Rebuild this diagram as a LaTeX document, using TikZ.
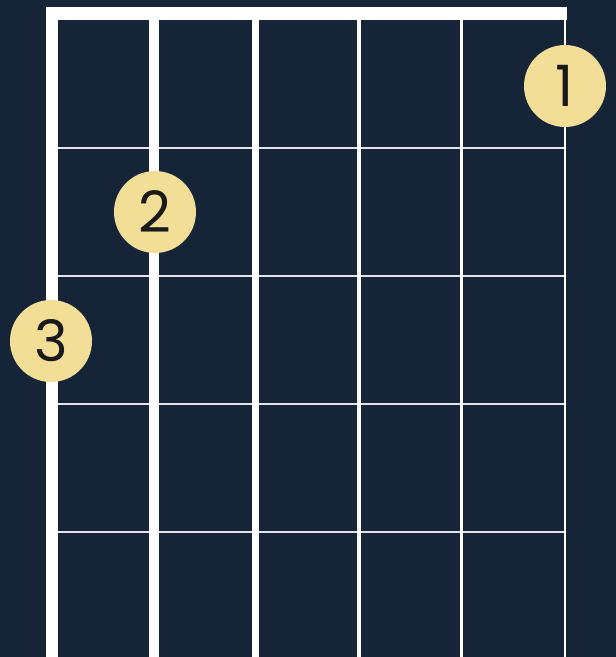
\documentclass[tikz,border=0pt]{standalone}
\usepackage{fontspec}
\setmainfont{Poppins}
\definecolor{bg}{HTML}{162438}
\definecolor{dot}{HTML}{F3DE98}
\begin{document}
\begin{tikzpicture}[x=1pt,y=-1pt,
  stringline/.style={draw=white,line cap=butt},
  fretline/.style={draw=white!88!bg,line width=2.4pt},
  finger/.style={circle,fill=dot,minimum size=82pt,inner sep=0pt,font=\fontsize{57}{57}\selectfont,text=black!90}]
\fill[bg] (0,0) rectangle (616,657);
\useasboundingbox (0,0) rectangle (616,657);
% frets
\foreach \y/\n in {148/f1,276/f2,404/f3,532/f4}{
  \coordinate (\n l) at (52,\y);
  \coordinate (\n r) at (565,\y);
  \draw[fretline] (\n l) -- (\n r);
}
% strings
\foreach \x/\w/\n in {52/12/s1,154/10/s2,255/7/s3,359/4.5/s4,461.5/3/s5,565/2.5/s6}{
  \coordinate (\n t) at (\x,13);
  \coordinate (\n b) at (\x,657);
  \draw[stringline,line width=\w pt] (\n t) -- (\n b);
}
% nut
\coordinate (nutl) at (46,13.5);
\coordinate (nutr) at (566.5,13.5);
\draw[white,line width=13pt] (nutl) -- (nutr);
% fingers
\node[finger] (d1) at (565,86) {1};
\node[finger] (d2) at (155,212) {2};
\node[finger] (d3) at (51,341) {3};
\end{tikzpicture}
\end{document}
